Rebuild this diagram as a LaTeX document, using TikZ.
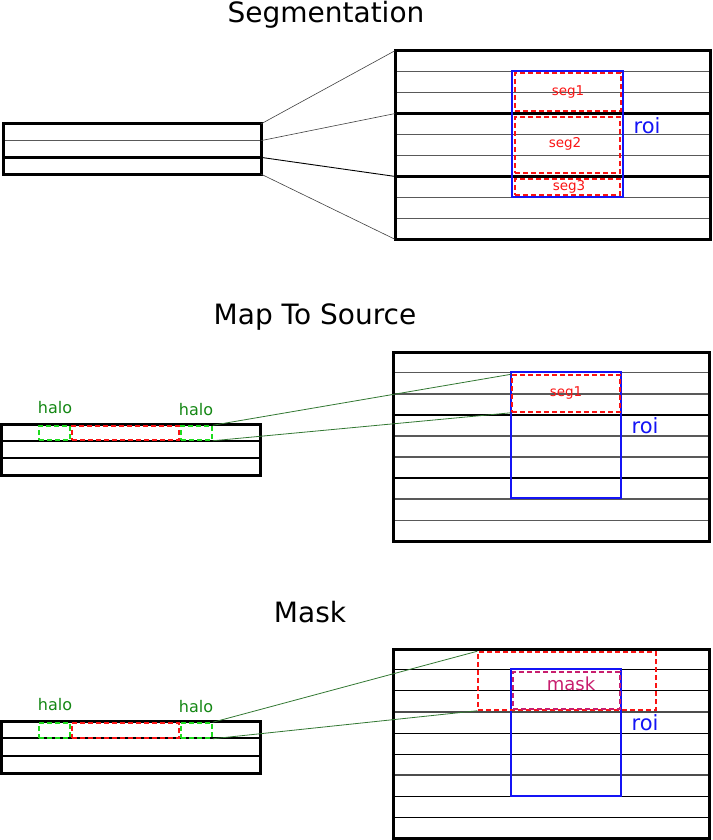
\documentclass[tikz,border=0pt]{standalone}
\usepackage{fontspec}
\setmainfont{DejaVu Sans}
\usetikzlibrary{calc,fit}
\definecolor{roiblue}{RGB}{20,20,245}
\definecolor{segred}{RGB}{250,20,20}
\definecolor{halogreen}{RGB}{30,220,30}
\definecolor{halotext}{RGB}{20,135,20}
\definecolor{linkgreen}{RGB}{50,120,50}
\definecolor{maskpink}{RGB}{200,30,110}
\begin{document}
\begin{tikzpicture}[x=1pt,y=-1pt,
  frame/.style={draw=black, line width=3pt, inner sep=0pt},
  fine/.style={draw=black!65, line width=1.3pt},
  heavy/.style={draw=black, line width=2.4pt},
  mid/.style={draw=black, line width=2pt},
  roibox/.style={draw=roiblue, line width=1.6pt, inner sep=0pt},
  segbox/.style={draw=segred, line width=1.5pt, dash pattern=on 5pt off 3pt, inner sep=0pt},
  seglabel/.style={text=segred, inner sep=0pt, font=\fontsize{13.5}{16}\selectfont},
  halobox/.style={draw=halogreen, line width=1.5pt, dash pattern=on 5pt off 3pt, inner sep=0pt},
  maskbox/.style={draw=maskpink, line width=1.5pt, dash pattern=on 5pt off 3pt, inner sep=0pt},
  title/.style={font=\fontsize{28}{34}\selectfont, anchor=base},
  roilabel/.style={text=roiblue, font=\fontsize{21}{25}\selectfont},
  halolabel/.style={text=halotext, font=\fontsize{16}{19}\selectfont},
  masklabel/.style={text=maskpink, font=\fontsize{18}{21}\selectfont},
  link/.style={draw=black!75, line width=0.6pt},
  glink/.style={draw=linkgreen, line width=0.8pt}
]
\useasboundingbox (0,0) rectangle (712,840);

% ================= Segmentation =================
\node[title] (t1) at (326,23) {Segmentation};

\node[fit={(3,124) (261,174)}, inner sep=0pt] (L1) {};
\draw[fine] ($(L1.north west)!1/3!(L1.south west)$) -- ($(L1.north east)!1/3!(L1.south east)$) coordinate (L1a);
\draw[heavy] ($(L1.north west)!2/3!(L1.south west)$) -- ($(L1.north east)!2/3!(L1.south east)$) coordinate (L1b);
\node[frame, fit={(3,124) (261,174)}] {};

\node[fit={(395,51) (710,239)}, inner sep=0pt] (R1) {};
\foreach \i in {1,2,4,5,7,8}
  \draw[fine] ($(R1.north west)!\i/9!(R1.south west)$) -- ($(R1.north east)!\i/9!(R1.south east)$);
\draw[heavy] ($(R1.north west)!3/9!(R1.south west)$) coordinate (R1a) -- ($(R1.north east)!3/9!(R1.south east)$);
\draw[heavy] ($(R1.north west)!6/9!(R1.south west)$) coordinate (R1b) -- ($(R1.north east)!6/9!(R1.south east)$);
\node[frame, fit={(395,51) (710,239)}] {};

\draw[link] (L1.north east) -- (R1.north west);
\draw[link] (L1a) -- (R1a);
\draw[link, draw=black, line width=0.9pt] (L1b) -- (R1b);
\draw[link] (L1.south east) -- (R1.south west);

\node[roibox, fit={(512,71) (623,197)}] (roi1) {};
\node[segbox, fit={(515,73) (621,111)}] (s11) {};
\node[segbox, fit={(515,117) (620,173)}] (s12) {};
\node[segbox, fit={(515,179) (620,195)}] (s13) {};
\node[seglabel] (s11t) at (568,92) {seg1};
\node[seglabel] (s12t) at (565,144) {seg2};
\node[seglabel] (s13t) at (569,187) {seg3};
\node[roilabel] (r1) at (647,126) {roi};

% ================= Map To Source =================
\node[title] (t2) at (315,324) {Map To Source};

\node[fit={(1,424) (260,475)}, inner sep=0pt] (L2) {};
\draw[mid] ($(L2.north west)!1/3!(L2.south west)$) -- ($(L2.north east)!1/3!(L2.south east)$);
\draw[mid] ($(L2.north west)!2/3!(L2.south west)$) -- ($(L2.north east)!2/3!(L2.south east)$);
\node[frame, fit={(1,424) (260,475)}] {};
\node[halobox, fit={(39,426) (70,440)}] (h21) {};
\node[halobox, fit={(181,426) (212,440)}] (h22) {};
\node[segbox, fit={(72,426) (179,440)}] (c2) {};
\node[halolabel] (hl21) at (55,408) {halo};
\node[halolabel] (hl22) at (196,410) {halo};

\node[fit={(393,352) (709,541)}, inner sep=0pt] (R2) {};
\foreach \i in {1,2,4,5,7,8}
  \draw[fine] ($(R2.north west)!\i/9!(R2.south west)$) -- ($(R2.north east)!\i/9!(R2.south east)$);
\draw[heavy] ($(R2.north west)!3/9!(R2.south west)$) -- ($(R2.north east)!3/9!(R2.south east)$);
\draw[heavy] ($(R2.north west)!6/9!(R2.south west)$) -- ($(R2.north east)!6/9!(R2.south east)$);
\node[frame, fit={(393,352) (709,541)}] {};

\node[roibox, fit={(511,372) (621,498)}] (roi2) {};
\node[segbox, fit={(512,375) (620,412)}] (s21) {};
\node[seglabel] (s21t) at (566,393) {seg1};
\node[roilabel] (r2) at (645,426) {roi};

\draw[glink] (h22.north east) -- (s21.north west);
\draw[glink] (h22.south east) -- (s21.south west);

% ================= Mask =================
\node[title] (t3) at (310,622) {Mask};

\node[fit={(1,721) (260,773)}, inner sep=0pt] (L3) {};
\draw[mid] ($(L3.north west)!1/3!(L3.south west)$) -- ($(L3.north east)!1/3!(L3.south east)$);
\draw[mid] ($(L3.north west)!2/3!(L3.south west)$) -- ($(L3.north east)!2/3!(L3.south east)$);
\node[frame, fit={(1,721) (260,773)}] {};
\node[halobox, fit={(39,723) (70,738)}] (h31) {};
\node[halobox, fit={(181,723) (212,738)}] (h32) {};
\node[segbox, fit={(72,723) (179,738)}] (c3) {};
\node[halolabel] (hl31) at (55,705) {halo};
\node[halolabel] (hl32) at (196,707) {halo};

\node[fit={(393,649) (709,838)}, inner sep=0pt] (R3) {};
\foreach \i in {1,2,4,5,7,8}
  \draw[draw=black, line width=0.9pt] ($(R3.north west)!\i/9!(R3.south west)$) -- ($(R3.north east)!\i/9!(R3.south east)$);
\draw[draw=black!70, line width=2.2pt] ($(R3.north west)!3/9!(R3.south west)$) -- ($(R3.north east)!3/9!(R3.south east)$);
\draw[draw=black!70, line width=2.2pt] ($(R3.north west)!6/9!(R3.south west)$) -- ($(R3.north east)!6/9!(R3.south east)$);
\node[frame, fit={(393,649) (709,838)}] {};

\node[roibox, fit={(511,669) (621,796)}] (roi3) {};
\node[segbox, fit={(478,652) (656,710)}] (big3) {};
\node[maskbox, fit={(513,672) (620,709)}] (m3) {};
\node[masklabel] (ml3) at (571,684) {mask};
\node[roilabel] (r3) at (645,723) {roi};

\draw[glink] (h32.north east) -- (big3.north west);
\draw[glink] (h32.south east) -- (big3.south west);
\end{tikzpicture}
\end{document}
